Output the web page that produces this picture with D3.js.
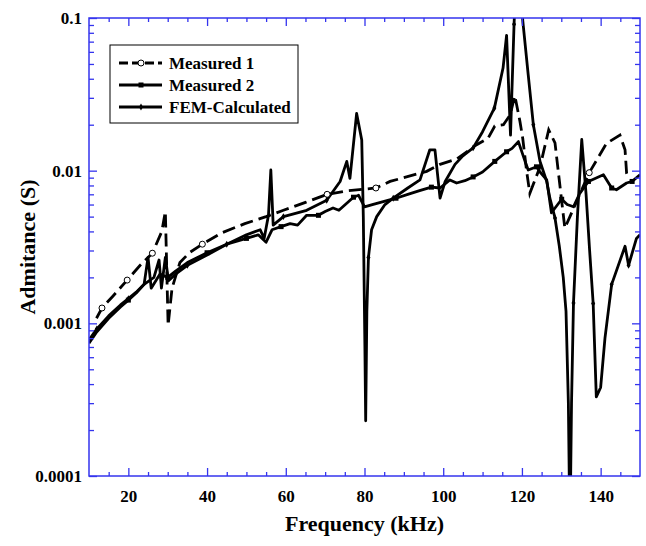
<!DOCTYPE html>
<html>
<head>
<meta charset="utf-8">
<script src="https://d3js.org/d3.v7.min.js"></script>
<style>
  html, body { margin: 0; padding: 0; background: #fff; }
  svg text { font-family: "Liberation Serif", "Times New Roman", serif; font-weight: bold; fill: #000; }
</style>
</head>
<body>
<svg id="chart" width="646" height="546"></svg>
<script>

// ---- data ----
var xTicks = [20, 40, 60, 80, 100, 120, 140];
var yTicks = [0.0001, 0.001, 0.01, 0.1];
var yTickLabels = ["0.0001", "0.001", "0.01", "0.1"];
var seriesNames = ["Measured 1", "Measured 2", "FEM-Calculated"];

// Measured 1 (dashed, open circles)
var m1Freq = [11.9, 13.3, 16, 19.7, 23, 26.1, 28.5, 29.4, 30.1, 31.1, 33.1, 35.5, 38.8, 43.6, 49.6, 55,
  59.4, 65, 70.5, 76, 82.9, 86.5, 95.8, 99.2, 103.4, 108.5, 111.4, 113.1, 115.3, 117, 118.2, 119.5,
  120.2, 121.2, 122, 124.6, 126.8, 128.4, 130.9, 132.2, 137.1, 141.5, 144.9, 146.2, 146.6, 147.2];
var m1Val = [0.00108, 0.00126, 0.0015, 0.00192, 0.0024, 0.00288, 0.0040, 0.0054, 0.00097, 0.0017, 0.0025, 0.0029, 0.0033, 0.0039, 0.0045, 0.0050,
  0.0055, 0.0062, 0.0070, 0.0074, 0.0077, 0.0085, 0.0099, 0.0110, 0.0119, 0.0148, 0.0163, 0.0196, 0.0200, 0.0232, 0.031, 0.021,
  0.0163, 0.0099, 0.0071, 0.0106, 0.0185, 0.0152, 0.0042, 0.0050, 0.0097, 0.0151, 0.0171, 0.0137, 0.0096, 0.0088];
var m1Marks = [13.3, 19.7, 26.1, 38.8, 70.5, 82.9, 137.1];

// Measured 2 (solid, squares)
var m2Freq = [10, 12, 15, 18, 20, 22, 24, 24.6, 25, 25.8, 28, 30, 32, 35, 40, 45, 50, 53, 55, 56.5,
  58.8, 61.1, 63, 65.3, 68.3, 70, 72, 73.5, 77.2, 78.5, 80, 82, 85, 88, 91, 94, 97, 99.2, 101.7, 103.4,
  105.5, 107.6, 110, 113.1, 116.1, 117.5, 119.1, 120.8, 121.6, 123.7, 124.6, 126.3, 127.5, 130.1, 131.5,
  133.1, 134.7, 136.9, 140.7, 142.8, 144, 146.6, 148, 150];
var m2Val = [0.00074, 0.00088, 0.00108, 0.00128, 0.00142, 0.00158, 0.0018, 0.0023, 0.0027, 0.0017, 0.0021, 0.0020, 0.0022, 0.0025, 0.0029, 0.0033, 0.0036, 0.0038, 0.0034, 0.0041,
  0.0043, 0.0045, 0.0044, 0.0051, 0.0051, 0.0054, 0.0057, 0.0055, 0.0067, 0.0069, 0.0058, 0.0060, 0.0063, 0.0066, 0.0070, 0.0074, 0.0078, 0.0077, 0.0087, 0.0083,
  0.0086, 0.0091, 0.0098, 0.0115, 0.0133, 0.0140, 0.0155, 0.0115, 0.0101, 0.0106, 0.0098, 0.0087, 0.0053, 0.0065, 0.0060,
  0.0058, 0.0071, 0.0085, 0.0094, 0.0077, 0.0075, 0.0083, 0.0085, 0.0094];
var m2Marks = [20, 30, 40, 50, 58.8, 68.3, 77.2, 88, 97, 107.6, 113.1, 116.1, 123.7, 130.1, 136.9, 142.8, 148];

// FEM-Calculated (solid, small diamonds)
var femFreq = [10, 12, 15, 18, 20, 22, 24, 26.5, 27.8, 28.4, 29.4, 30.2, 32, 35, 40, 45, 50, 53.5, 54.5,
  55.6, 56.2, 56.8, 59.4, 65.3, 70.4, 73.8, 75.5, 76.3, 78, 79.3, 79.7, 80.1, 80.3, 80.6, 81, 81.8, 83.1,
  85.2, 87.3, 91, 94.1, 96.6, 97.9, 99.2, 100.5, 103, 105, 107.6, 110, 113, 115.2, 116.1, 117.1, 118,
  119.2, 120.2, 121.6, 122.9, 124.6, 126.3, 127.1, 128.4, 129.5, 130.5, 131.2, 131.8, 132.2, 132.6,
  133.1, 134.1, 135.2, 136.3, 137.2, 138.1, 138.9, 140, 141.1, 142.8, 146.2, 147.1, 149.1, 150];
var femVal = [0.00078, 0.00092, 0.00112, 0.00132, 0.00145, 0.0016, 0.0018, 0.0020, 0.0026, 0.0017, 0.0027, 0.0019, 0.0021, 0.0024, 0.0028, 0.0033, 0.0038, 0.0041, 0.0036,
  0.0051, 0.0101, 0.0044, 0.0050, 0.0055, 0.0064, 0.0085, 0.0115, 0.0089, 0.0237, 0.0159, 0.0050, 0.0007, 0.00023, 0.0012, 0.0027, 0.0041, 0.0050,
  0.0060, 0.0066, 0.0077, 0.0087, 0.0137, 0.0137, 0.0066, 0.0085, 0.0110, 0.0125, 0.0141, 0.0180, 0.0257, 0.047, 0.077, 0.0171, 0.091,
  0.5, 0.097, 0.0424, 0.020, 0.0115, 0.0085, 0.0066, 0.0049, 0.0032, 0.0020, 0.0012, 0.0003, 0.00004, 0.0003,
  0.00136, 0.0050, 0.016, 0.0070, 0.0030, 0.00135, 0.00033, 0.00038, 0.0008, 0.0018, 0.0032, 0.0024, 0.0036, 0.0038];
var femMarks = [12, 20, 35, 45, 59.4, 70.4, 81, 87.3, 107.6, 113, 118, 122.9, 128.4, 133.1, 138.1, 142.8, 147.1];

// ---- layout ----
var plotL = 89, plotR = 640, plotT = 18, plotB = 476;
var blue = "#3434ee";
var lw = 2.8;

var svg = d3.select("#chart");

var x = d3.scaleLinear().domain([10, 150]).range([plotL, plotR]);
var y = d3.scaleLog().domain([0.0001, 0.1]).range([plotB, plotT]);

function zip(f, v) {
  return f.map(function (d, i) { return { f: d, v: v[i] }; });
}
var m1 = zip(m1Freq, m1Val),
    m2 = zip(m2Freq, m2Val),
    fem = zip(femFreq, femVal);

svg.append("clipPath").attr("id", "plot")
  .append("rect")
  .attr("x", plotL).attr("y", plotT)
  .attr("width", plotR - plotL).attr("height", plotB - plotT);

var line = d3.line()
  .x(function (d) { return x(d.f); })
  .y(function (d) { return y(d.v); });

var plot = svg.append("g").attr("clip-path", "url(#plot)");

plot.append("path").datum(fem)
  .attr("d", line).attr("fill", "none")
  .attr("stroke", "#000").attr("stroke-width", lw).attr("stroke-linejoin", "round");

plot.append("path").datum(m2)
  .attr("d", line).attr("fill", "none")
  .attr("stroke", "#000").attr("stroke-width", lw).attr("stroke-linejoin", "round");

plot.append("path").datum(m1)
  .attr("d", line).attr("fill", "none")
  .attr("stroke", "#000").attr("stroke-width", lw)
  .attr("stroke-dasharray", "13,6");

function pick(data, marks) {
  return data.filter(function (d) { return marks.indexOf(d.f) >= 0; });
}

plot.selectAll(".m1mark").data(pick(m1, m1Marks)).enter()
  .append("circle")
  .attr("cx", function (d) { return x(d.f); })
  .attr("cy", function (d) { return y(d.v); })
  .attr("r", 3).attr("fill", "#fff").attr("stroke", "#000").attr("stroke-width", 1);

plot.selectAll(".m2mark").data(pick(m2, m2Marks)).enter()
  .append("rect")
  .attr("x", function (d) { return x(d.f) - 2.5; })
  .attr("y", function (d) { return y(d.v) - 2.5; })
  .attr("width", 5).attr("height", 5).attr("fill", "#000");

var diamond = d3.symbol().type(d3.symbolDiamond).size(14);
plot.selectAll(".femmark").data(pick(fem, femMarks)).enter()
  .append("path")
  .attr("d", diamond)
  .attr("transform", function (d) { return "translate(" + x(d.f) + "," + y(d.v) + ")"; })
  .attr("fill", "#000");

// ---- axes (blue frame, ticks inward) ----
var xMinor = d3.range(15, 150, 5).filter(function (d) { return xTicks.indexOf(d) < 0; });
var yMinor = [];
[0.0001, 0.001, 0.01].forEach(function (dec) {
  for (var k = 2; k <= 9; k++) yMinor.push(dec * k);
});

function styleAxis(g) {
  g.select(".domain").remove();
  g.selectAll("line").attr("stroke", blue).attr("stroke-width", 1.3);
  g.selectAll("text").attr("fill", "#000").attr("font-size", "17px")
    .attr("font-family", "'Liberation Serif', 'Times New Roman', serif").attr("font-weight", "bold");
}

svg.append("g").attr("transform", "translate(0," + plotB + ")")
  .call(d3.axisBottom(x).tickValues(xTicks).tickSizeInner(-8).tickSizeOuter(0).tickPadding(14).tickFormat(d3.format("d")))
  .call(styleAxis);
svg.append("g").attr("transform", "translate(0," + plotB + ")")
  .call(d3.axisBottom(x).tickValues(xMinor).tickSizeInner(-4).tickSizeOuter(0).tickFormat(""))
  .call(styleAxis);
svg.append("g").attr("transform", "translate(0," + plotT + ")")
  .call(d3.axisTop(x).tickValues(xTicks).tickSizeInner(-8).tickSizeOuter(0).tickFormat(""))
  .call(styleAxis);
svg.append("g").attr("transform", "translate(0," + plotT + ")")
  .call(d3.axisTop(x).tickValues(xMinor).tickSizeInner(-4).tickSizeOuter(0).tickFormat(""))
  .call(styleAxis);

svg.append("g").attr("transform", "translate(" + plotL + ",0)")
  .call(d3.axisLeft(y).tickValues(yTicks).tickSizeInner(-8).tickSizeOuter(0).tickPadding(7)
    .tickFormat(function (d, i) { return yTickLabels[i]; }))
  .call(styleAxis);
svg.append("g").attr("transform", "translate(" + plotL + ",0)")
  .call(d3.axisLeft(y).tickValues(yMinor).tickSizeInner(-5).tickSizeOuter(0).tickFormat(""))
  .call(styleAxis);
svg.append("g").attr("transform", "translate(" + plotR + ",0)")
  .call(d3.axisRight(y).tickValues(yTicks).tickSizeInner(-8).tickSizeOuter(0).tickFormat(""))
  .call(styleAxis);
svg.append("g").attr("transform", "translate(" + plotR + ",0)")
  .call(d3.axisRight(y).tickValues(yMinor).tickSizeInner(-5).tickSizeOuter(0).tickFormat(""))
  .call(styleAxis);

svg.append("rect")
  .attr("x", plotL).attr("y", plotT)
  .attr("width", plotR - plotL).attr("height", plotB - plotT)
  .attr("fill", "none").attr("stroke", blue).attr("stroke-width", 1.5);

// ---- axis titles ----
svg.append("text")
  .attr("x", (plotL + plotR) / 2).attr("y", 531)
  .attr("text-anchor", "middle").attr("font-size", "22px")
  .text("Frequency (kHz)");

svg.append("text")
  .attr("transform", "translate(35,247) rotate(-90)")
  .attr("text-anchor", "middle").attr("font-size", "22px")
  .text("Admitance (S)");

// ---- legend ----
var legend = svg.append("g");
legend.append("rect")
  .attr("x", 110).attr("y", 45).attr("width", 188).attr("height", 78)
  .attr("fill", "#fff").attr("stroke", "#000").attr("stroke-width", 1);

var rowY = [63, 85, 107];
seriesNames.forEach(function (name, i) {
  var g = legend.append("g");
  var ln = g.append("line")
    .attr("x1", 119).attr("x2", 162).attr("y1", rowY[i]).attr("y2", rowY[i])
    .attr("stroke", "#000").attr("stroke-width", lw);
  if (i === 0) {
    ln.attr("stroke-dasharray", "9,4");
    g.append("circle").attr("cx", 141).attr("cy", rowY[i]).attr("r", 3)
      .attr("fill", "#fff").attr("stroke", "#000").attr("stroke-width", 1);
  } else if (i === 1) {
    g.append("rect").attr("x", 138.5).attr("y", rowY[i] - 2.5).attr("width", 5).attr("height", 5).attr("fill", "#000");
  } else {
    g.append("path").attr("d", diamond).attr("transform", "translate(141," + rowY[i] + ")").attr("fill", "#000");
  }
  g.append("text").attr("x", 169).attr("y", rowY[i] + 6)
    .attr("font-size", "17px").text(name);
});

</script>
</body>
</html>
